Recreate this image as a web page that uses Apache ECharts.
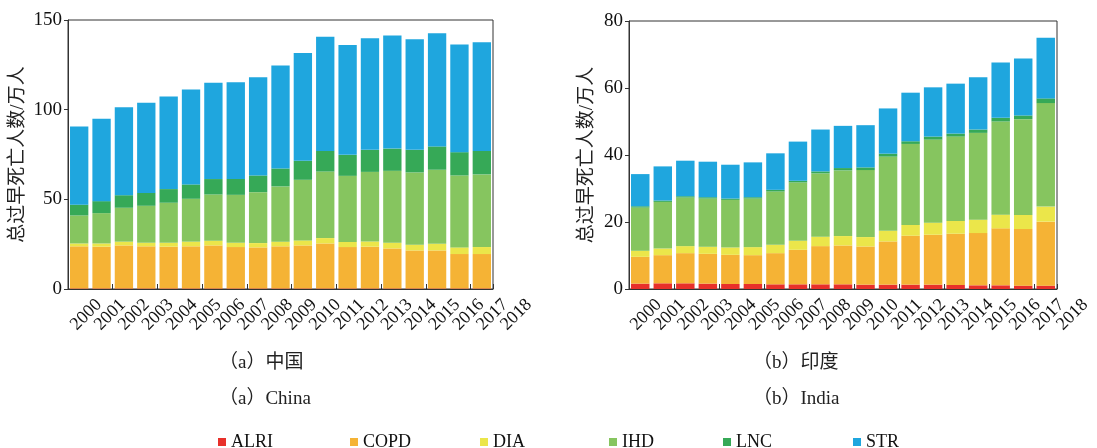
<!DOCTYPE html>
<html><head><meta charset="utf-8">
<script src="https://cdn.jsdelivr.net/npm/echarts@6/dist/echarts.min.js"></script>
<style>html,body{margin:0;padding:0;background:#fff}#c{width:1097px;height:448px}</style>
</head><body><div id="c"></div>
<script>
const years = ['2000','2001','2002','2003','2004','2005','2006','2007','2008','2009','2010','2011','2012','2013','2014','2015','2016','2017','2018'];
const causes = ['ALRI','COPD','DIA','IHD','LNC','STR'];
const colors = ['#e8302a','#f5b335','#ebe64a','#86c55f','#36a957','#1fa6de'];
// China (万人)
const chinaALRI = [0.3,0.3,0.3,0.3,0.3,0.3,0.3,0.3,0.3,0.3,0.3,0.3,0.3,0.3,0.3,0.3,0.3,0.3,0.3];
const chinaCOPD = [23.5,23.3,24.0,23.5,23.3,23.5,24.0,23.1,22.9,23.5,24.0,25.1,23.1,23.3,22.3,21.2,21.2,19.2,19.2];
const chinaDIA  = [1.6,1.8,2.1,2.0,2.2,2.6,2.6,2.4,2.4,2.6,2.8,3.0,2.8,2.9,3.2,3.2,3.7,3.7,3.9];
const chinaIHD  = [15.6,16.9,18.9,20.6,22.3,23.9,25.8,26.7,28.4,30.8,33.8,37.1,36.9,38.8,40.1,40.3,41.3,40.1,40.5];
const chinaLNC  = [6.0,6.7,7.0,7.2,7.6,8.0,8.6,8.9,9.3,10.0,10.6,11.5,11.7,12.3,12.4,12.6,13.0,13.0,13.1];
const chinaSTR  = [43.6,46.0,49.1,50.2,51.6,52.9,53.7,53.9,54.8,57.4,60.1,63.7,61.3,62.2,63.0,61.6,63.1,60.1,60.6];
// India (万人)
const indiaALRI = [1.6,1.7,1.7,1.6,1.5,1.5,1.4,1.4,1.4,1.4,1.3,1.3,1.3,1.3,1.2,1.1,1.1,1.0,1.0];
const indiaCOPD = [8.0,8.4,9.0,8.9,8.7,8.6,9.3,10.3,11.4,11.6,11.4,12.9,14.6,14.9,15.3,15.6,17.0,16.9,19.1];
const indiaDIA  = [1.8,2.0,2.1,2.1,2.2,2.4,2.5,2.7,2.8,2.8,2.8,3.2,3.2,3.6,3.8,4.0,4.1,4.2,4.5];
const indiaIHD  = [12.9,13.9,14.5,14.4,14.2,14.5,15.9,17.4,18.9,19.6,20.0,22.1,24.2,24.8,25.2,25.9,27.8,28.6,30.9];
const indiaLNC  = [0.4,0.4,0.4,0.4,0.4,0.4,0.5,0.5,0.6,0.7,0.8,0.9,0.8,0.9,0.9,1.0,1.1,1.1,1.4];
const indiaSTR  = [9.6,10.2,10.6,10.6,10.1,10.4,10.9,11.7,12.5,12.6,12.6,13.5,14.5,14.7,14.9,15.6,16.5,17.0,18.1];
const chinaTicks = [0,50,100,150];
const indiaTicks = [0,20,40,60,80];
const yName = '总过早死亡人数/万人';
const captions = ['（a）中国','（a）China','（b）印度','（b）India'];

const chinaData = [chinaALRI,chinaCOPD,chinaDIA,chinaIHD,chinaLNC,chinaSTR];
const indiaData = [indiaALRI,indiaCOPD,indiaDIA,indiaIHD,indiaLNC,indiaSTR];
const FONT = "'Liberation Serif','Noto Sans CJK SC',serif";

function yAxis(gi, ticks, gap){
  return {type:'value', gridIndex:gi, min:ticks[0], max:ticks[ticks.length-1], interval:ticks[1]-ticks[0],
    name:yName, nameLocation:'middle', nameGap:gap, nameRotate:90,
    nameTextStyle:{fontFamily:FONT, fontSize:19, color:'#222'},
    axisLine:{show:true, lineStyle:{color:'#333', width:1}},
    axisTick:{show:true, inside:false, length:4, lineStyle:{color:'#333'}},
    axisLabel:{fontFamily:FONT, fontSize:19, color:'#111', margin:6},
    splitLine:{show:false}};
}
function xAxis(gi){
  return {type:'category', gridIndex:gi, data:years,
    axisLine:{show:true, lineStyle:{color:'#333', width:1}},
    axisTick:{show:true, inside:true, length:5, alignWithLabel:false, lineStyle:{color:'#333'}},
    axisLabel:{show:false}};
}
function labelAxis(gi){
  return {type:'category', gridIndex:gi, data:years,
    axisLine:{show:false}, axisTick:{show:false},
    axisLabel:{show:true, interval:0, rotate:45, margin:13, fontFamily:FONT, fontSize:18, color:'#111'}};
}
const series = [];
causes.forEach((c,i)=>{
  series.push({name:c, type:'bar', stack:'cn', xAxisIndex:0, yAxisIndex:0, data:chinaData[i],
    barCategoryGap:'18%', itemStyle:{color:colors[i]}});
});
causes.forEach((c,i)=>{
  series.push({name:c, type:'bar', stack:'in', xAxisIndex:1, yAxisIndex:1, data:indiaData[i],
    barCategoryGap:'18%', itemStyle:{color:colors[i]}});
});
const legendLeft = [213,345,475,604,718,848];
const legends = causes.map((c,i)=>({data:[c], left:legendLeft[i], top:428, icon:'rect', itemWidth:8, itemHeight:8, itemGap:6,
  textStyle:{fontFamily:FONT, fontSize:18, color:'#111'}, selectedMode:false}));

const capStyle = {fontFamily:FONT, fontSize:19, fontWeight:'normal', color:'#222'};
const option = {
  animation:false,
  color:colors,
  title:[
    {text:captions[0], left:214, top:349, textStyle:capStyle},
    {text:captions[1], left:214, top:385, textStyle:capStyle},
    {text:captions[2], left:748, top:349, textStyle:capStyle},
    {text:captions[3], left:748, top:385, textStyle:capStyle}
  ],
  legend:legends,
  grid:[
    {left:68, width:425, top:20, height:269, show:true, borderColor:'#333', borderWidth:1},
    {left:629, width:428, top:21, height:268, show:true, borderColor:'#333', borderWidth:1},
    {left:87, width:454, top:20, height:269, show:false},
    {left:647, width:453, top:21, height:268, show:false}
  ],
  xAxis:[xAxis(0), xAxis(1), labelAxis(2), labelAxis(3)],
  yAxis:[yAxis(0, chinaTicks, 40), yAxis(1, indiaTicks, 32),
    {type:'value', gridIndex:2, show:false}, {type:'value', gridIndex:3, show:false}],
  series:series
};
echarts.init(document.getElementById('c')).setOption(option);
</script></body></html>
